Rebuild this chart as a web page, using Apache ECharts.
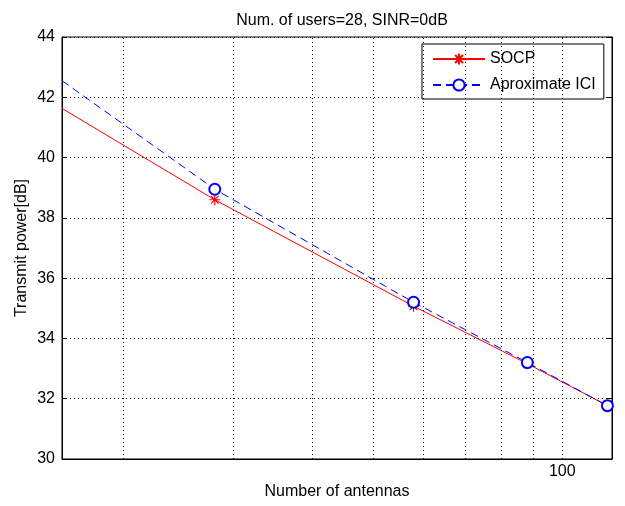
<!DOCTYPE html>
<html>
<head>
<meta charset="utf-8">
<script src="https://cdn.jsdelivr.net/npm/echarts@6/dist/echarts.min.js"></script>
<style>html,body{margin:0;padding:0;background:#fff;}#c{width:625px;height:506px;}</style>
</head>
<body>
<div id="c"></div>
<script>
// Data
const antennas = [16, 28, 58, 88, 118];           // first entry = left plot edge (no marker)
const socp     = [41.63, 38.60, 35.07, 33.16, 31.77];
const ici      = [42.55, 38.95, 35.20, 33.20, 31.77];
const xGrid    = [20, 30, 40, 50, 60, 70, 80, 90, 100];
const xTickLabels = [100];
const seriesNames = ['SOCP', 'Aproximate ICI'];

const FONT = 'Liberation Sans';
const FS = 16;

function toData(ys) {
  return antennas.map((x, i) => i === 0 ? { value: [x, ys[i]], symbol: 'none' } : [x, ys[i]]);
}

const asterisk = 'path://M0,-1L0,1M-1,0L1,0M-0.7,-0.7L0.7,0.7M-0.7,0.7L0.7,-0.7';

const chart = echarts.init(document.getElementById('c'), null, { renderer: 'canvas' });
chart.setOption({
  animation: false,
  backgroundColor: '#fff',
  textStyle: { fontFamily: FONT },
  title: {
    text: 'Num. of users=28, SINR=0dB',
    left: 337, top: 8, textAlign: 'center',
    textStyle: { fontFamily: FONT, fontSize: FS, fontWeight: 'normal', color: '#000' }
  },
  grid: {
    left: 62, right: 13, top: 37, bottom: 47,
    show: true, borderColor: '#000', borderWidth: 1, backgroundColor: '#fff'
  },
  legend: {
    orient: 'vertical', left: 422, top: 44,
    itemWidth: 52, itemHeight: 14, itemGap: 10,
    padding: [7, 8, 6, 10],
    backgroundColor: '#fff', borderColor: '#000', borderWidth: 1,
    textStyle: { fontFamily: FONT, fontSize: FS, color: '#000' },
    data: seriesNames
  },
  xAxis: [{
    type: 'log', logBase: 10, min: 16, max: 120,
    name: 'Number of antennas', nameLocation: 'middle', nameGap: 25,
    nameMoveOverlap: false,
    nameTextStyle: { fontFamily: FONT, fontSize: FS, color: '#000' },
    axisLine: { show: true, lineStyle: { color: '#000', width: 1 } },
    axisTick: { show: false },
    splitLine: { show: false },
    axisLabel: {
      margin: 5, fontFamily: FONT, fontSize: FS, color: '#000',
      showMinLabel: false, showMaxLabel: false,
      formatter: v => xTickLabels.some(t => Math.abs(t - v) < 1e-6) ? String(Math.round(v)) : ''
    }
  }],
  yAxis: [{
    type: 'value', min: 30, max: 44, interval: 2,
    name: 'Transmit power[dB]', nameLocation: 'middle', nameGap: 32,
    nameMoveOverlap: false,
    nameTextStyle: { fontFamily: FONT, fontSize: FS, color: '#000' },
    axisLine: { show: true, lineStyle: { color: '#000', width: 1 } },
    axisTick: { show: true, inside: true, length: 5, lineStyle: { color: '#000' } },
    axisLabel: { margin: 7, fontFamily: FONT, fontSize: FS, color: '#000' },
    splitLine: { show: true, lineStyle: { color: '#000', width: 1, type: [1, 3] } }
  }, {
    type: 'value', min: 30, max: 44, interval: 2, position: 'right',
    axisLine: { show: true, lineStyle: { color: '#000', width: 1 } },
    axisTick: { show: true, inside: true, length: 5, lineStyle: { color: '#000' } },
    axisLabel: { show: false },
    splitLine: { show: false }
  }],
  series: [{
    name: seriesNames[0], type: 'line', yAxisIndex: 0,
    data: toData(socp),
    symbol: asterisk, symbolSize: 11,
    itemStyle: { color: '#ff0000', borderColor: '#ff0000', borderWidth: 1.1 },
    lineStyle: { color: '#ff0000', width: 1, type: 'solid' },
    clip: true, z: 3,
    markLine: {
      silent: true, symbol: 'none', animation: false,
      label: { show: false },
      lineStyle: { color: '#000', width: 1, type: [1, 3] },
      data: xGrid.map(x => ({ xAxis: x }))
    }
  }, {
    name: seriesNames[1], type: 'line', yAxisIndex: 0,
    data: toData(ici),
    symbol: 'emptyCircle', symbolSize: 11,
    itemStyle: { color: '#0000ff', borderColor: '#0000ff', borderWidth: 1 },
    lineStyle: { color: '#0000ff', width: 1, type: [8, 5] },
    clip: true, z: 4
  }]
});
</script>
</body>
</html>
